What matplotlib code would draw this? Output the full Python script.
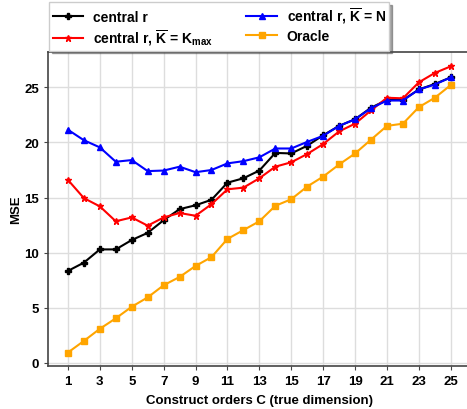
import numpy as np
import matplotlib
matplotlib.use("Agg")
import matplotlib.pyplot as plt

plt.rcParams['font.family'] = ['Liberation Sans', 'DejaVu Sans']
plt.rcParams['font.weight'] = 'bold'
plt.rcParams['mathtext.fontset'] = 'custom'
plt.rcParams['mathtext.rm'] = 'Liberation Sans:bold'
plt.rcParams['mathtext.bf'] = 'Liberation Sans:bold'
plt.rcParams['mathtext.it'] = 'Liberation Sans:bold'
plt.rcParams['mathtext.default'] = 'bf'

orders = np.arange(1, 26)

central_r = [8.35, 9.1, 10.3, 10.3, 11.15, 11.8, 12.95, 13.95, 14.3, 14.8,
             16.35, 16.75, 17.45, 19.05, 19.0, 19.7, 20.65, 21.5, 22.1, 23.15,
             23.85, 23.85, 24.8, 25.3, 25.9]
central_r_kmax = [16.6, 14.95, 14.2, 12.85, 13.2, 12.45, 13.2, 13.6, 13.35, 14.4,
                  15.75, 15.9, 16.75, 17.8, 18.2, 18.95, 19.85, 21.0, 21.7, 22.9,
                  24.05, 24.0, 25.45, 26.3, 26.9]
central_r_n = [21.15, 20.2, 19.55, 18.25, 18.4, 17.4, 17.45, 17.8, 17.3, 17.5,
               18.1, 18.3, 18.65, 19.45, 19.45, 20.05, 20.6, 21.5, 22.1, 23.1,
               23.8, 23.8, 24.8, 25.25, 25.9]
oracle = [0.95, 2.0, 3.1, 4.05, 5.1, 5.95, 7.05, 7.8, 8.8, 9.6,
          11.25, 12.05, 12.85, 14.25, 14.85, 16.0, 16.9, 18.0, 19.0, 20.25,
          21.5, 21.7, 23.2, 24.05, 25.2]

labels = ['central r',
          r'central r, $\overline{K}$ = K$_{max}$',
          r'central r, $\overline{K}$ = N',
          'Oracle']

W, H = 467, 410
fig = plt.figure(figsize=(W / 100, H / 100), dpi=100)
ax = fig.add_axes([48 / W, 42.7 / H, 422.7 / W, 314.3 / H])

lw = 1.5
ax.plot(orders, central_r, color='black', marker='P', markersize=4.5, lw=lw, label=labels[0])
ax.plot(orders, central_r_kmax, color='red', marker='*', markersize=5, lw=lw, label=labels[1])
ax.plot(orders, central_r_n, color='blue', marker='^', markersize=4.5, lw=lw, label=labels[2])
ax.plot(orders, oracle, color='orange', marker='s', markersize=4.5, lw=lw, label=labels[3])

ax.set_xlim(-0.25, 26.25)
ax.set_ylim(-0.3, 28.2)
ax.set_xticks(np.arange(1, 26, 2))
ax.set_yticks(np.arange(0, 26, 5))
ax.grid(True, color='#dddddd', lw=1.0)
ax.set_axisbelow(True)
for s in ax.spines.values():
    s.set_color('#444444')
    s.set_linewidth(1.2)
ax.tick_params(labelsize=9.5, color='#444444', length=3)
for t in ax.get_xticklabels() + ax.get_yticklabels():
    t.set_fontweight('bold')

ax.set_xlabel('Construct orders C (true dimension)', fontsize=9.5, fontweight='bold', labelpad=5)
ax.set_ylabel('MSE', fontsize=9.5, fontweight='bold', labelpad=1.5)

leg = ax.legend(loc='lower left', bbox_to_anchor=(0, 1.0), ncol=2,
                fontsize=10, frameon=True, shadow=True, fancybox=False,
                borderaxespad=0.1, columnspacing=2.4, handlelength=2.2,
                handletextpad=0.7, labelspacing=0.3, borderpad=0.25)
leg.get_frame().set_edgecolor('#cccccc')

fig.savefig('out.png', dpi=100)
